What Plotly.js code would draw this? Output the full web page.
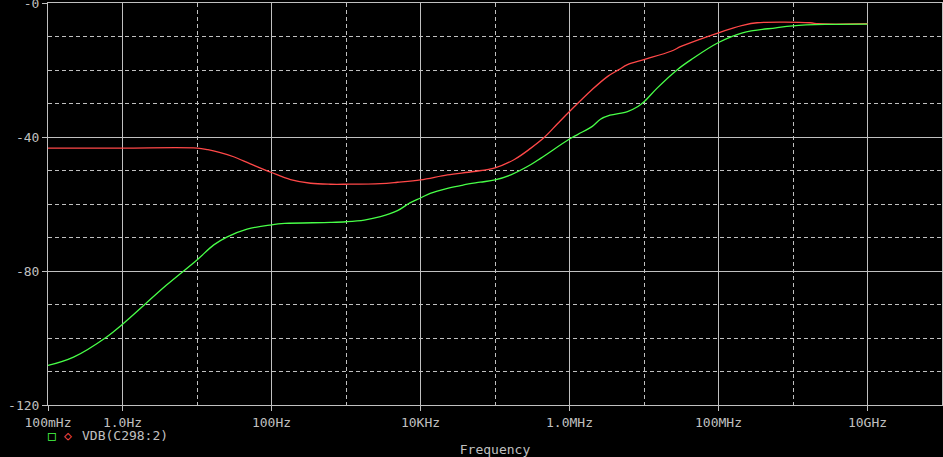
<!DOCTYPE html>
<html>
<head>
<meta charset="utf-8">
<script src="https://cdn.plot.ly/plotly-3.0.1.min.js"></script>
<style>
  html, body { margin: 0; padding: 0; background: #000; }
  #chart { width: 943px; height: 457px; }
</style>
</head>
<body>
<div id="chart"></div>
<script>
// Frequencies (Hz) and dB values
const redFreq = [0.1, 1, 10, 14, 20, 31, 52, 100, 180, 335, 620, 1000, 2900, 4900, 10000, 23000, 52000, 100000, 182000, 300000, 460000, 700000, 1.0e6, 2.0e6, 3.26e6, 4.6e6, 6.0e6, 1.0e7, 2.3e7, 3.2e7, 1.0e8, 2.1e8, 3.3e8, 1.7e9, 2.2e9, 1.0e10];
const redDB   = [-43.3, -43.3, -43.3, -43.8, -44.6, -45.9, -48.0, -50.6, -52.7, -53.8, -54.1, -54.1, -53.9, -53.5, -52.8, -51.3, -50.3, -49.2, -46.7, -43.4, -40.1, -35.9, -32.4, -25.9, -21.9, -19.9, -18.4, -16.9, -14.4, -12.9, -8.9, -6.7, -5.9, -5.9, -6.2, -6.2];

const greenFreq = [0.1, 0.22, 0.62, 1, 3.9, 10, 16.8, 25.5, 47, 100, 150, 620, 1000, 1760, 2900, 4900, 7300, 10000, 13500, 23000, 38000, 63000, 100000, 163000, 300000, 414000, 1.0e6, 1.3e6, 2.0e6, 2.6e6, 3.5e6, 6.0e6, 8.3e6, 1.0e7, 1.5e7, 2.8e7, 4.3e7, 1.0e8, 2.1e8, 5.9e8, 1.0e9, 2.7e9, 1.0e10];
const greenDB   = [-108.2, -105.7, -99.6, -95.9, -84.2, -76.7, -72.2, -69.8, -67.5, -66.2, -65.8, -65.5, -65.3, -64.8, -63.8, -62.0, -59.6, -58.2, -56.8, -55.3, -54.3, -53.5, -52.8, -51.3, -48.3, -46.3, -40.6, -39.2, -36.9, -34.7, -33.5, -32.4, -30.9, -29.5, -25.4, -19.9, -16.9, -11.8, -8.9, -7.4, -6.8, -6.4, -6.3];

const xTickVals = [0.1, 1, 100, 1e4, 1e6, 1e8, 1e10];
const xTickText = ["100mHz", "1.0Hz", "100Hz", "10KHz", "1.0MHz", "100MHz", "10GHz"];
const xMinorVals = [10, 1e3, 1e5, 1e7, 1e9];
const yTickVals = [0, -40, -80, -120];
const yTickText = ["-0", "-40", "-80", "-120"];
const yMinorVals = [-10, -20, -30, -50, -60, -70, -90, -100, -110];
const traceLabel = "VDB(C298:2)";

const grey = "#c0c0c0";
const mono = "DejaVu Sans Mono, Liberation Mono, monospace";
const RED = "#ff4848";
const GREEN = "#48ff48";

const traces = [
  { x: redFreq, y: redDB, type: "scatter", mode: "lines", name: traceLabel,
    line: { color: RED, width: 1.3, shape: "spline", smoothing: 1.0 }, hoverinfo: "skip" },
  { x: greenFreq, y: greenDB, type: "scatter", mode: "lines", name: traceLabel,
    line: { color: GREEN, width: 1.3, shape: "spline", smoothing: 1.0 }, hoverinfo: "skip" }
];

const axisCommon = {
  showgrid: true, gridcolor: grey, gridwidth: 1,
  showline: true, linecolor: grey, linewidth: 1, mirror: true,
  ticks: "outside", ticklen: 5, tickcolor: grey, tickwidth: 1,
  zeroline: false, ticklabeloverflow: "allow",
  tickfont: { family: mono, size: 13, color: grey }
};

const layout = {
  width: 943, height: 457,
  paper_bgcolor: "#000", plot_bgcolor: "#000",
  margin: { l: 48, r: 1, t: 3, b: 52 },
  showlegend: false,
  xaxis: Object.assign({}, axisCommon, {
    type: "log", range: [-1, 11],
    tickmode: "array", tickvals: xTickVals, ticktext: xTickText,
    minor: { tickmode: "array", tickvals: xMinorVals, showgrid: true, gridcolor: grey, gridwidth: 1, griddash: "4px,3px", ticks: "" },
    title: { text: "Frequency", font: { family: mono, size: 13, color: grey }, standoff: 16 },
    automargin: false
  }),
  yaxis: Object.assign({}, axisCommon, {
    range: [-120, 0],
    tickmode: "array", tickvals: yTickVals, ticktext: yTickText,
    minor: { tickmode: "array", tickvals: yMinorVals, showgrid: true, gridcolor: grey, gridwidth: 1, griddash: "4px,3px", ticks: "" },
    automargin: false
  }),
  annotations: [
    { xref: "paper", yref: "paper", x: 0.0045, y: -0.077, text: "\u25A1", showarrow: false,
      xanchor: "center", yanchor: "middle", font: { family: mono, size: 13, color: GREEN } },
    { xref: "paper", yref: "paper", x: 0.0225, y: -0.077, text: "\u25C7", showarrow: false,
      xanchor: "center", yanchor: "middle", font: { family: mono, size: 13, color: RED } },
    { xref: "paper", yref: "paper", x: 0.0355, y: -0.077, text: traceLabel, showarrow: false,
      xanchor: "left", yanchor: "middle", font: { family: mono, size: 13, color: grey } }
  ]
};

Plotly.newPlot("chart", traces, layout, { staticPlot: true, displayModeBar: false });
</script>
</body>
</html>
